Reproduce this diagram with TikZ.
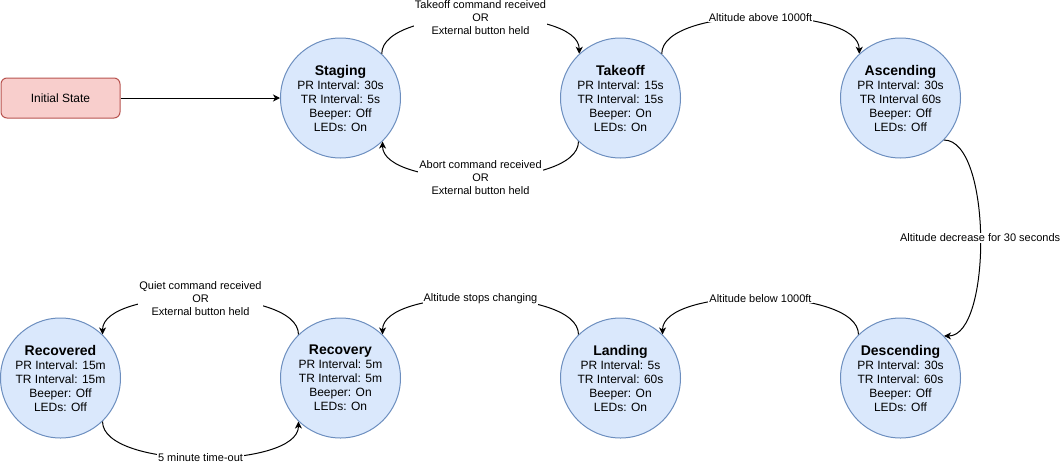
\documentclass[tikz,border=0pt]{standalone}
\usepackage{fontspec}
\setmainfont{Liberation Sans}
\usetikzlibrary{arrows.meta,shapes,calc}
\definecolor{SBlue}{HTML}{dae8fc}
\definecolor{SBlueLine}{HTML}{6c8ebf}
\definecolor{SRed}{HTML}{f8cecc}
\definecolor{SRedLine}{HTML}{b85450}
\tikzset{
    state/.style = {draw=SBlueLine, fill=SBlue, circle,
        minimum size=120pt, inner sep=0pt, align=center,
        font=\fontsize{12}{14}\selectfont},
    initstate/.style = {draw=SRedLine, fill=SRed, rectangle, rounded corners=6pt,
        minimum width=119pt, minimum height=40pt,
        font=\fontsize{12}{14}\selectfont},
    lbl/.style = {fill=white, inner sep=1pt, align=center,
        font=\fontsize{11}{13.3}\selectfont},
    trans/.style = {draw, ->, looseness=0.63}
}
\newcommand{\stname}[1]{{\fontsize{14}{15}\selectfont\bfseries #1}}

\begin{document}
\begin{tikzpicture}[x=1pt, y=-1pt, node distance=280pt, line width=1pt,
        >={Stealth[length=7pt,width=7pt,inset=2pt]}]
        \useasboundingbox (0,0) rectangle (1061,464);
        \node [initstate] (init) at (60.5,98) {Initial State};
        \node [state, right of=init] (stg) {\stname{Staging}\\PR Interval: 30s\\TR Interval: 5s\\Beeper: Off\\LEDs: On};
        \node [state, right of=stg] (tko) {\stname{Takeoff}\\PR Interval: 15s\\TR Interval: 15s\\Beeper: On\\LEDs: On};
        \node [state, right of=tko] (asc) {\stname{Ascending}\\PR Interval: 30s\\TR Interval 60s\\Beeper: Off\\LEDs: Off};
        \node [state, below of=asc] (dsc) {\stname{Descending}\\PR Interval: 30s\\TR Interval: 60s\\Beeper: Off\\LEDs: Off};
        \node [state, left of=dsc] (lnd) {\stname{Landing}\\PR Interval: 5s\\TR Interval: 60s\\Beeper: On\\LEDs: On};
        \node [state, left of=lnd] (rcy) {\stname{Recovery}\\PR Interval: 5m\\TR Interval: 5m\\Beeper: On\\LEDs: On};
        \node [state, left of=rcy] (rcd) {\stname{Recovered}\\PR Interval: 15m\\TR Interval: 15m\\Beeper: Off\\LEDs: Off};
        \draw [->] (init) -- (stg);
        \draw [trans] (stg.47) to[out=90,in=90] node[lbl]{Takeoff command received\\OR\\External button held} (tko.133);
        \draw [trans] (tko.226) to[out=-90,in=-90] node[lbl]{Abort command received\\OR\\External button held} (stg.-46);
        \draw [trans] (tko.47) to[out=90,in=90] node[lbl]{Altitude above 1000ft} (asc.133);
        \draw [trans] (asc.-44) to[out=0,in=0] node[lbl]{Altitude decrease for 30 seconds} (dsc.44);
        \draw [trans] (dsc.134) to[out=90,in=90] node[lbl]{Altitude below 1000ft} (lnd.46);
        \draw [trans] (lnd.134) to[out=90,in=90] node[lbl]{Altitude stops changing} (rcy.46);
        \draw [trans] (rcy.134) to[out=90,in=90] node[lbl]{Quiet command received\\OR\\External button held} (rcd.46);
        \draw [trans] (rcd.-46) to[out=-90,in=-90] node[lbl]{5 minute time-out} (rcy.-134);
    \end{tikzpicture}
\end{document}
